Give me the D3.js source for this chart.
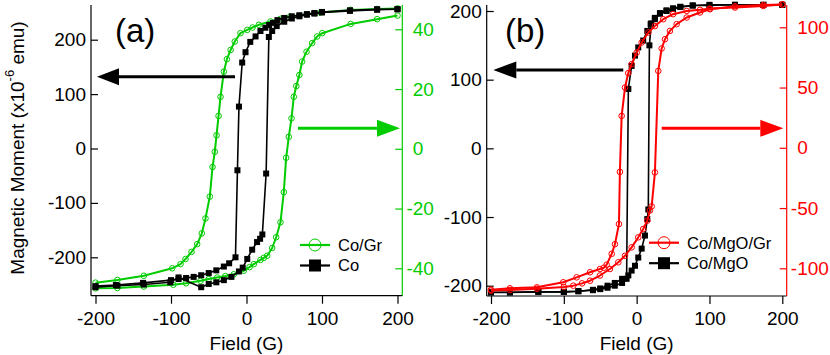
<!DOCTYPE html>
<html><head><meta charset="utf-8">
<script src="https://cdn.jsdelivr.net/npm/d3@7"></script>
<style>
html,body{margin:0;padding:0;background:#fff;}
svg text{font-family:"Liberation Sans",Arial,Helvetica,sans-serif;}
</style></head>
<body><svg id="c" width="830" height="355"></svg>
<script>
// ---------- DATA ----------
const fieldTicks = [-200, -100, 0, 100, 200];
const momentTicks = [-200, -100, 0, 100, 200];
const coGrTicks = [-40, -20, 0, 20, 40];
const coMgoGrTicks = [-100, -50, 0, 50, 100];
const legendA = ["Co/Gr", "Co"];
const legendB = ["Co/MgO/Gr", "Co/MgO"];

// Panel (a): Co (left axis, 10^-6 emu), [field G, moment]
const coDown = [[200,256],[173,256],[137,254],[100,251],[90,249],[80,247],[70,245],[60,243],[50,240],[41,236],[35,231],[30,227],[25,222],[18.5,216],[12,206],[5,196],[-1.3,177],[-5.7,158],[-10,77],[-12,-40],[-14.6,-200],[-23,-211],[-30,-217],[-40,-224],[-50,-229],[-60,-233],[-70,-236],[-80,-238],[-90,-240],[-100,-242],[-137,-247],[-173,-251],[-200,-253]];
const coUp = [[-200,-255],[-171,-252],[-136,-250],[-101,-246],[-90,-237],[-60,-255],[-50,-249],[-40,-246],[-30,-242],[-20,-236],[-10,-226],[-5,-219],[1,-203],[7.5,-186],[14,-172],[18,-166],[21,-158],[26,-46],[29.6,205],[34,216],[40,225],[50,233],[60,239],[70,243],[80,246],[90,248],[100,250],[137,253],[173,255],[200,256]];
// Panel (a): Co/Gr (right axis)
const coGrDown = [[200,47],[173,46.8],[138,46.5],[98,45.6],[80,45],[58,44.3],[45,43.5],[31.8,42.6],[16.3,41.5],[8,40.6],[1,39.8],[-8,38.7],[-15.5,35.9],[-21,33.1],[-26,30],[-30,25.8],[-34.4,17.4],[-37,11],[-39.7,4.5],[-42,-1],[-45,-6.1],[-48.6,-16],[-54.3,-23.3],[-59.2,-28.3],[-65.3,-31.9],[-72.8,-34.5],[-80.8,-36.9],[-87.4,-38.6],[-98.4,-40],[-136,-42.5],[-171,-43.9],[-200,-44.8]];
const coGrUp = [[-200,-46.7],[-171,-46.6],[-136,-46.1],[-97,-45.5],[-80,-45],[-61,-44.2],[-50,-43.6],[-38.9,-43.1],[-28,-42.6],[-16.8,-42],[-3.6,-40.8],[4,-39.6],[9.7,-38.6],[18.5,-37.2],[23,-36.5],[27.4,-35.8],[34,-33.2],[39.3,-29.6],[45,-24.6],[49.4,-14.5],[52.5,-3],[56,4],[59.6,10.2],[62.6,17.4],[66,21],[70,24.7],[73.7,29.2],[79.5,32.5],[87,35.4],[93.6,37.6],[100.3,38.7],[138,41.8],[173,43.4],[200,44.6]];

// Panel (b): Co/MgO (left axis)
const coMgoDown = [[200,209],[174,209],[135,209],[100,208],[77,208],[60,206],[50,203],[41,200],[32,196],[25,188],[19.2,181],[14.6,171],[9,157],[2.2,147],[-2.3,135],[-6.9,120],[-11.4,86.5],[-13.8,-190],[-20,-196],[-30,-200],[-40,-203],[-50,-205],[-60,-206.5],[-80,-208],[-100,-209],[-135,-209],[-174,-209.5],[-200,-209.5]];
const coMgoUp = [[-200,-210],[-174,-210],[-135,-209],[-100,-209],[-80,-208],[-60,-206],[-50,-204],[-40,-200],[-30,-196],[-20,-190],[-11.4,-185],[-6.9,-178],[-2.3,-171],[2.2,-159],[6.9,-146],[11.4,-127],[14.6,-103],[16,-89],[17.5,150],[20,182],[25,190],[32,197],[41,201],[50,204],[60,206],[77,208],[100,209],[135,209],[174,209],[200,209]];
// Panel (b): Co/MgO/Gr (right axis)
const coMgoGrDown = [[200,119],[174,117.7],[135,116.4],[100,115.5],[87,114.5],[68.7,113.6],[50,110.9],[36.5,106.7],[25,101],[16,95.7],[6.9,87.4],[0,79],[-6.9,69.4],[-11.5,62],[-16,50],[-20.6,26.5],[-23,-20],[-24.3,-63.3],[-29.8,-80],[-34.3,-88],[-41.2,-97],[-45,-99.5],[-50.4,-100.6],[-64,-103.3],[-82.4,-107.5],[-100.8,-111.6],[-137,-115.8],[-174,-116.6],[-200,-117.7]];
const coMgoGrUp = [[-200,-118.5],[-174,-118],[-137,-117],[-100,-115.5],[-87,-114.4],[-75,-112.5],[-64,-110.3],[-50.4,-106],[-36.7,-100.6],[-25.2,-95],[-16,-89.6],[-6.9,-82.6],[2.2,-74.3],[9,-67.4],[14.6,-60.5],[18.3,-52],[20.6,-48.6],[25.1,-20.4],[29.7,63.8],[34.3,82.4],[38.9,90.1],[45.7,97],[54.9,102.6],[68.7,108.1],[87,112.3],[100.7,115],[135,117.5],[174,118.5],[200,119]];

// ---------- DRAW ----------
const GREEN = "#00cc00", RED = "#ff0000", BLACK = "#000";
const svg = d3.select("#c");
svg.append("rect").attr("width",830).attr("height",355).attr("fill","#fff");
const fmt = d => String(d);

function panel(cfg){
  const g = svg.append("g");
  const x = d3.scaleLinear().domain([-200,200]).range(cfg.xr);
  const yl = d3.scaleLinear().domain([-200,200]).range(cfg.ylr);
  const yr = d3.scaleLinear().domain(cfg.rDom).range(cfg.yrr);
  const top = 5, bottom = cfg.bottom;
  g.append("line").attr("x1",cfg.left).attr("x2",cfg.left).attr("y1",top).attr("y2",bottom).attr("stroke",BLACK).attr("stroke-width",1.2);
  g.append("line").attr("x1",cfg.right).attr("x2",cfg.right).attr("y1",top).attr("y2",bottom).attr("stroke",cfg.rColor).attr("stroke-width",1.2);
  g.append("line").attr("x1",cfg.left).attr("x2",cfg.right).attr("y1",bottom).attr("y2",bottom).attr("stroke",BLACK).attr("stroke-width",1.2);
  const ax = g.append("g").attr("transform",`translate(0,${bottom})`)
    .call(d3.axisBottom(x).tickValues(fieldTicks).tickFormat(fmt).tickSizeInner(8).tickSizeOuter(0).tickPadding(6));
  const al = g.append("g").attr("transform",`translate(${cfg.left},0)`)
    .call(d3.axisLeft(yl).tickValues(momentTicks).tickFormat(fmt).tickSizeInner(-7).tickSizeOuter(0).tickPadding(5));
  const ar = g.append("g").attr("transform",`translate(${cfg.right},0)`)
    .call(d3.axisRight(yr).tickValues(cfg.rTicks).tickFormat(fmt).tickSizeInner(-7).tickSizeOuter(0).tickPadding(10.5));
  [ax,al,ar].forEach(a=>{a.select(".domain").remove(); a.selectAll("text").attr("font-size",19).attr("font-family","Liberation Sans, Arial, sans-serif");});
  ax.selectAll("line").attr("stroke",BLACK).attr("stroke-width",1.2);
  al.selectAll("line").attr("stroke",BLACK).attr("stroke-width",1.2);
  ar.selectAll("line").attr("stroke",cfg.rColor).attr("stroke-width",1.2);
  ar.selectAll("text").attr("fill",cfg.rColor).attr("dx",d=>d<0?"-0.333em":null);
  ax.selectAll("text").attr("dy","0.78em");
  g.append("text").attr("x",(cfg.xr[0]+cfg.xr[1])/2).attr("y",350).attr("text-anchor","middle").attr("font-size",19).text("Field (G)");
  g.append("text").attr("x",cfg.labX).attr("y",42).attr("font-size",33).text(cfg.label);

  const lineL = d3.line().x(d=>x(d[0])).y(d=>yl(d[1]));
  const lineR = d3.line().x(d=>x(d[0])).y(d=>yr(d[1]));
  const layer = g.append("g");

  function drawSeries(data, line, color, marker, yScale, sw){
    data.forEach(br=>{
      layer.append("path").attr("d",line(br)).attr("fill","none").attr("stroke",color).attr("stroke-width",sw).attr("stroke-linejoin","round");
    });
    data.forEach(br=>{
      if(marker==="circle"){
        layer.selectAll(null).data(br).enter().append("circle")
          .attr("cx",d=>x(d[0])).attr("cy",d=>yScale(d[1])).attr("r",2.8)
          .attr("fill","none").attr("stroke",color).attr("stroke-width",1);
      } else {
        layer.selectAll(null).data(br).enter().append("rect")
          .attr("x",d=>x(d[0])-3).attr("y",d=>yScale(d[1])-3).attr("width",6).attr("height",6).attr("fill",color);
      }
    });
  }
  return {g,x,yl,yr,lineL,lineR,drawSeries};
}

function arrow(g, x1, x2, y, color, headLen){
  const dir = Math.sign(x2-x1);
  const base = x2 - dir*headLen;
  g.append("line").attr("x1",x1).attr("x2",base).attr("y1",y).attr("y2",y).attr("stroke",color).attr("stroke-width",3);
  g.append("path").attr("d",`M${x2},${y} L${base},${y-8.5} L${base},${y+8.5} Z`).attr("fill",color);
}

function legend(g, x0, y0, items, colors, markers, textX){
  items.forEach((t,i)=>{
    const y = y0 + i*20.5;
    g.append("line").attr("x1",x0).attr("x2",x0+30).attr("y1",y).attr("y2",y).attr("stroke",colors[i]).attr("stroke-width",2.2);
    if(markers[i]==="circle") g.append("circle").attr("cx",x0+15).attr("cy",y).attr("r",6).attr("fill","none").attr("stroke",colors[i]).attr("stroke-width",1);
    else g.append("rect").attr("x",x0+9).attr("y",y-6).attr("width",12).attr("height",12).attr("fill",colors[i]);
    g.append("text").attr("x",textX).attr("y",y).attr("dy","0.36em").attr("font-size",16.5).text(t);
  });
}

// Panel (a)
const A = panel({xr:[95.5,397.5], ylr:[257.3,39.7], rDom:[-40,40], yrr:[268.3,29.3], rTicks:coGrTicks,
  rColor:GREEN, left:91, right:402.3, bottom:295.7, labX:115, label:"(a)"});
A.drawSeries([coGrDown,coGrUp], A.lineR, GREEN, "circle", A.yr, 2);
A.drawSeries([coDown,coUp], A.lineL, BLACK, "square", A.yl, 1.6);
arrow(A.g, 235, 97, 76.7, BLACK, 22);
arrow(A.g, 298, 400, 128.3, GREEN, 23);
legend(A.g, 300, 245, legendA, [GREEN,BLACK], ["circle","square"], 338);

// Panel (b)
const B = panel({xr:[491,782.3], ylr:[285.7,11], rDom:[-100,100], yrr:[268.3,27.3], rTicks:coMgoGrTicks,
  rColor:RED, left:486.7, right:786.7, bottom:296, labX:505, label:"(b)"});
B.drawSeries([coMgoDown,coMgoUp], B.lineL, BLACK, "square", B.yl, 1.6);
B.drawSeries([coMgoGrDown,coMgoGrUp], B.lineR, RED, "circle", B.yr, 2);
arrow(B.g, 623.3, 493.3, 70, BLACK, 23);
arrow(B.g, 661.7, 783.3, 128.3, RED, 23);
legend(B.g, 649, 242.7, legendB, [RED,BLACK], ["circle","square"], 687);

// Y title
const yt = svg.append("text").attr("transform","translate(24,148) rotate(-90)").attr("text-anchor","middle").attr("font-size",19);
yt.append("tspan").text("Magnetic Moment (x10");
yt.append("tspan").attr("font-size",13).attr("dy","-0.75em").text("-6");
yt.append("tspan").attr("dy","0.5em").text(" emu)");
</script></body></html>
